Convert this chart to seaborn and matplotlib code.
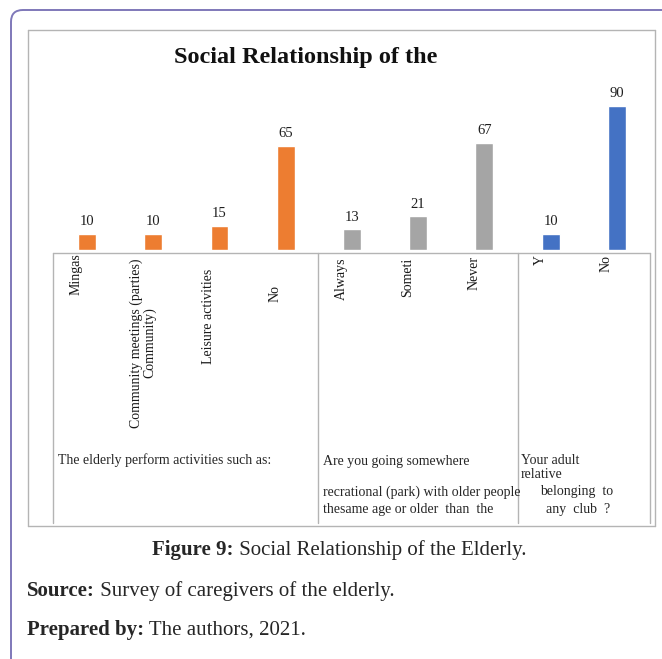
import numpy as np
import pandas as pd
import matplotlib
matplotlib.use("Agg")
import matplotlib.pyplot as plt
import matplotlib.transforms as mtransforms
from matplotlib.lines import Line2D
from matplotlib.patches import FancyBboxPatch
import seaborn as sns


# ---------------------------
# Data
# ---------------------------

categories = ["Mingas", "Community meetings (parties)\nCommunity)", "Leisure activities", "No",
              "Always", "Someti", "Never",
              "Y", "No"]
values = [10, 10, 15, 65, 13, 21, 67, 10, 90]
groups = ["activities", "activities", "activities", "activities",
          "park", "park", "park",
          "club", "club"]

group_colors = {"activities": "#ED7D31", "park": "#A5A5A5", "club": "#4472C4"}

title = "Social Relationship of the"

# ---------------------------
# Figure setup
# ---------------------------

W, H = 662, 659
sns.set_style("white")
plt.rcParams["font.family"] = ["Liberation Serif", "DejaVu Serif"]

fig = plt.figure(figsize=(W / 100, H / 100), dpi=100)


def fx(x):
    return x / W


def fy(y):
    return 1 - y / H


# axes: category i sits at 87 + 66.2*i px, baseline at y=250 px, 100 units = 160 px
left, right, base, top = 53.9, 650.0, 250.0, 90.0
ax = fig.add_axes([fx(left), fy(base), (right - left) / W, (base - top) / H])

df = pd.DataFrame({"pos": range(len(values)), "value": values, "group": groups})

sns.barplot(data=df, x="pos", y="value", hue="group", palette=group_colors,
            dodge=False, width=0.27, legend=False, ax=ax, saturation=1)

ax.set_xlim(-0.5, len(values) - 0.5)
ax.set_ylim(0, 100)
ax.set_axis_off()

for cont in ax.containers:
    ax.bar_label(cont, fontsize=10.5, color="#1f1f1f", padding=4)

# category labels (rotated, Excel-style multi-level axis)
label_tops = [253, 258, 269, 285, 258, 258, 256, 255, 255]
trans = mtransforms.blended_transform_factory(ax.transData, fig.transFigure)
for i, lab in enumerate(categories):
    ax.text(i - 0.16, fy(label_tops[i]), lab, transform=trans, rotation=90,
            ha="center", va="top", fontsize=10, color="#1a1a1a",
            multialignment="center", linespacing=1.0, clip_on=False)

# ---------------------------
# Frames and table lines
# ---------------------------

grey = "#b4b4b4"


def hline(y, x0, x1, color=grey, lw=1.0):
    fig.add_artist(Line2D([fx(x0), fx(x1)], [fy(y), fy(y)], color=color, lw=lw))


def vline(x, y0, y1, color=grey, lw=1.0):
    fig.add_artist(Line2D([fx(x), fx(x)], [fy(y0), fy(y1)], color=color, lw=lw))


# outer rounded panel
fig.add_artist(FancyBboxPatch((fx(11), fy(720)), fx(760), (720 - 10) / H,
                              boxstyle="round,pad=0,rounding_size=0.018",
                              fc="none", ec="#7f78b9", lw=1.4))

# chart area box
hline(30, 28, 655)
hline(526, 28, 655)
vline(28, 30, 526)
vline(655, 30, 526)

# category table
hline(253, 53, 650)
for x in [53, 318, 518, 650]:
    vline(x, 253, 523)

# ---------------------------
# Texts
# ---------------------------

fig.text(fx(306), fy(58), title, ha="center", va="center",
         fontsize=17.5, fontweight="bold", color="#111111")

gs = 10
fig.text(fx(58), fy(460), "The elderly perform activities such as:", fontsize=gs, va="center")
fig.text(fx(323), fy(461), "Are you going somewhere", fontsize=gs, va="center")
fig.text(fx(323), fy(492), "recrational (park) with older people", fontsize=gs, va="center")
fig.text(fx(323), fy(509), "thesame age or older  than  the", fontsize=gs, va="center")
fig.text(fx(521), fy(460), "Your adult", fontsize=gs, va="center")
fig.text(fx(521), fy(474), "relative", fontsize=gs, va="center")
fig.text(fx(540), fy(492), "belonging  to", fontsize=gs, va="center")
fig.text(fx(546), fy(509), "any  club  ?", fontsize=gs, va="center")


def caption(x, y, bold, rest):
    t = fig.text(fx(x), fy(y), bold, fontsize=15, fontweight="bold", va="center")
    ax.annotate(rest, xy=(1, 0), xycoords=t, fontsize=15, va="bottom", ha="left",
                annotation_clip=False)
    return t


caption(152, 550, "Figure 9:", " Social Relationship of the Elderly.")
caption(27, 591, "Source:", " Survey of caregivers of the elderly.")
caption(27, 630, "Prepared by:", " The authors, 2021.")

fig.savefig("out.png", dpi=100)
